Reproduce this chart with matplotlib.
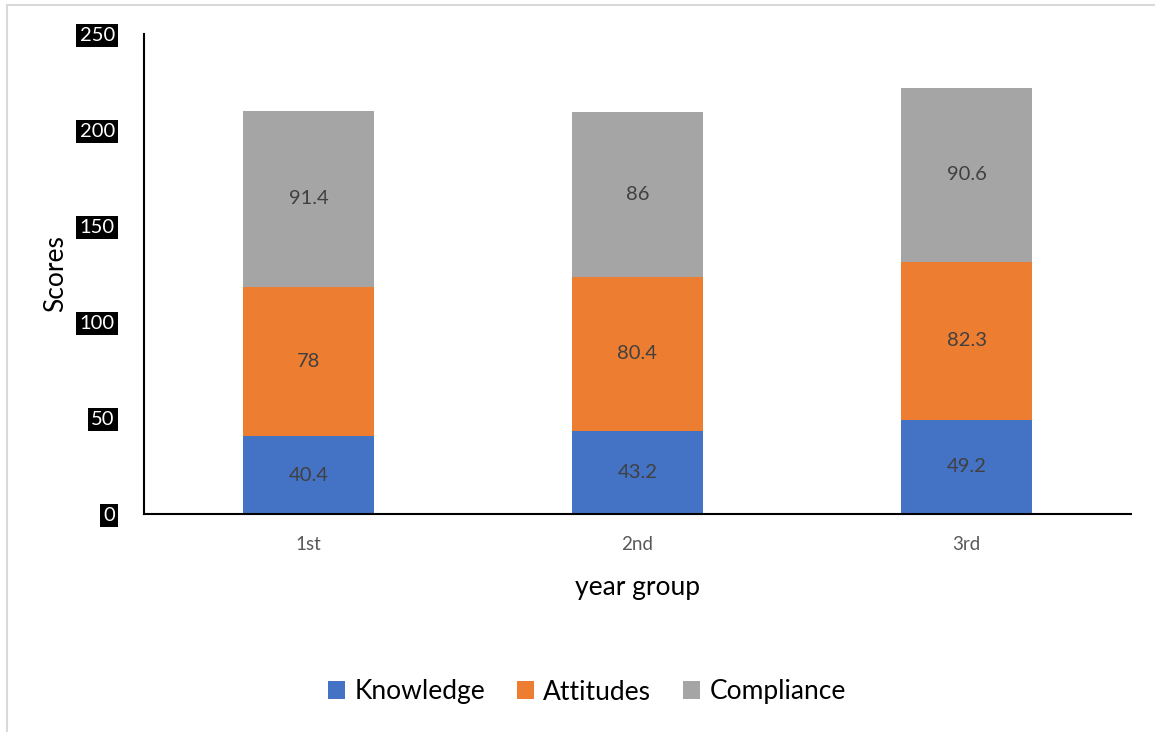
import matplotlib.pyplot as plt
import numpy as np
from matplotlib.lines import Line2D

# chart data
groups = ["1st", "2nd", "3rd"]
knowledge = [40.4, 43.2, 49.2]
attitudes = [78, 80.4, 82.3]
compliance = [91.4, 86, 90.6]
series_names = ["Knowledge", "Attitudes", "Compliance"]
colors = ["#4472C4", "#ED7D31", "#A5A5A5"]

plt.rcParams['font.family'] = ['Lato', 'DejaVu Sans']

fig = plt.figure(figsize=(11.55, 7.32), dpi=100)
ax = fig.add_axes([144 / 1155, 1 - 514 / 732, (1131 - 144) / 1155, (514 - 34) / 732])

x = np.arange(len(groups))
bottom = np.zeros(len(groups))
for vals, name, col in zip([knowledge, attitudes, compliance], series_names, colors):
    bars = ax.bar(x, vals, width=0.4, bottom=bottom, color=col, label=name)
    ax.bar_label(bars, labels=[f"{v:g}" for v in vals], label_type='center',
                 fontsize=14.5, color='#404040')
    bottom += np.array(vals)

ax.set_xlim(-0.5, 2.5)
ax.set_ylim(0, 250)
ax.set_yticks([0, 50, 100, 150, 200, 250])
ax.set_xticks(x)
ax.set_xticklabels(groups, fontsize=13.5, color='#595959')
ax.tick_params(axis='both', length=0)
ax.tick_params(axis='y', pad=21, labelsize=14.5, labelcolor='white')
ax.tick_params(axis='x', pad=16)
for lbl in ax.get_yticklabels():
    lbl.set_bbox(dict(facecolor='black', edgecolor='none', pad=2.5))

for s in ['top', 'right']:
    ax.spines[s].set_visible(False)
for s in ['left', 'bottom']:
    ax.spines[s].set_linewidth(1.5)
    ax.spines[s].set_color('black')

ax.set_xlabel("year group", fontsize=19, labelpad=16)
ax.set_ylabel("Scores", fontsize=19, labelpad=8)

fig.legend(loc='center', bbox_to_anchor=(587 / 1155, 1 - 692 / 732), ncol=3,
           frameon=False, fontsize=19, handlelength=0.65, handleheight=0.65,
           handletextpad=0.35, columnspacing=1.2)

# light outer border
fig.add_artist(Line2D([7 / 1155, 7 / 1155], [0, 1 - 5 / 732], color='#d9d9d9', lw=1.5,
                      transform=fig.transFigure))
fig.add_artist(Line2D([7 / 1155, 1], [1 - 5 / 732, 1 - 5 / 732], color='#d9d9d9', lw=1.5,
                      transform=fig.transFigure))

fig.savefig("out.png", dpi=100)
